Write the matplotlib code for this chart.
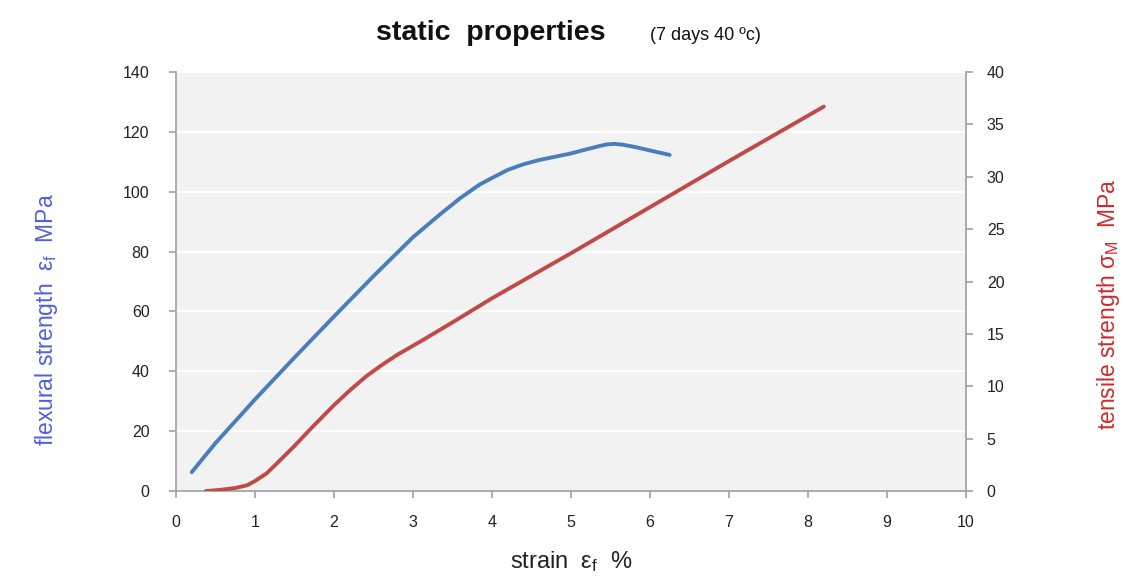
import numpy as np
import matplotlib.pyplot as plt

plt.rcParams['font.family'] = ['Liberation Sans', 'DejaVu Sans']

# flexural strength (left axis)
flex_strain = [0.2, 0.5, 1.0, 1.5, 2.0, 2.5, 3.0, 3.35, 3.6, 3.85, 4.0, 4.2, 4.4, 4.6, 4.8, 5.0,
               5.2, 5.35, 5.45, 5.55, 5.66, 5.8, 6.0, 6.25]
flex_mpa = [6.3, 16, 30.6, 44.6, 58.3, 71.8, 84.8, 92.6, 97.9, 102.5, 104.6, 107.3, 109.2, 110.6, 111.7, 112.8,
            114.2, 115.2, 115.8, 116.0, 115.7, 115.0, 113.8, 112.3]

# tensile strength (right axis)
tens_strain = [0.38, 0.55, 0.76, 0.9, 1.0, 1.15, 1.3, 1.5, 1.7, 2.0, 2.2, 2.4, 2.6, 2.8, 3.1, 3.5, 4.0,
               5.0, 6.0, 7.0, 8.2]
tens_mpa = [0.0, 0.1, 0.3, 0.55, 0.95, 1.7, 2.8, 4.3, 5.9, 8.2, 9.6, 10.9, 12.0, 13.0, 14.3, 16.1, 18.4,
            22.7, 27.1, 31.5, 36.7]

x_ticks = np.arange(0, 11, 1)
left_ticks = np.arange(0, 141, 20)
right_ticks = np.arange(0, 41, 5)

blue = '#4a7ebb'
red = '#be4b48'
axis_grey = '#a0a0a0'

fig = plt.figure(figsize=(11.44, 5.87), dpi=100)
ax = fig.add_axes([0.1538, 0.1635, 0.6906, 0.7138])
ax.set_facecolor('#f2f2f2')
ax2 = ax.twinx()

ax.plot(flex_strain, flex_mpa, color=blue, lw=2.8, solid_capstyle='round',
        solid_joinstyle='round', zorder=3)
ax2.plot(tens_strain, tens_mpa, color=red, lw=2.8, solid_capstyle='round',
         solid_joinstyle='round', zorder=3)

ax.set_xlim(0, 10)
ax.set_ylim(0, 140)
ax2.set_ylim(0, 40)
ax.set_xticks(x_ticks)
ax.set_yticks(left_ticks)
ax2.set_yticks(right_ticks)

ax.grid(axis='y', color='white', lw=1.5)
ax.set_axisbelow(True)

for a in (ax, ax2):
    a.spines['top'].set_visible(False)
    for s in ('left', 'right', 'bottom'):
        a.spines[s].set_color(axis_grey)
        a.spines[s].set_linewidth(1.2)
    a.tick_params(colors=axis_grey, labelcolor='#222222', labelsize=11.5, length=5, width=1.2)
ax.spines['right'].set_visible(False)
ax2.spines['left'].set_visible(False)
ax2.spines['bottom'].set_visible(False)
ax.tick_params(axis='x', pad=12)
ax.tick_params(axis='y', pad=14)
ax2.tick_params(axis='y', pad=10)

ax.set_xlabel(r'strain  $\mathregular{\varepsilon_f}$  %', fontsize=17, color='#222222', labelpad=14)
ax.set_ylabel(r'flexural strength  $\mathregular{\varepsilon_f}$  MPa', fontsize=16.5, color='#4f5fe0')
ax.yaxis.set_label_coords(-0.147, 0.41)
ax2.set_ylabel(r'tensile strength $\mathregular{\sigma_M}$  MPa', fontsize=16.5, color='#d02a2a',
               rotation=90)
ax2.yaxis.set_label_coords(1.163, 0.445)

fig.text(0.429, 0.943, 'static  properties', fontsize=20.5, fontweight='bold',
         ha='center', va='center', color='#111111')
fig.text(0.568, 0.940, '(7 days 40 ºc)', fontsize=13, ha='left', va='center', color='#111111')

fig.savefig('out.png', dpi=100, facecolor='white')
